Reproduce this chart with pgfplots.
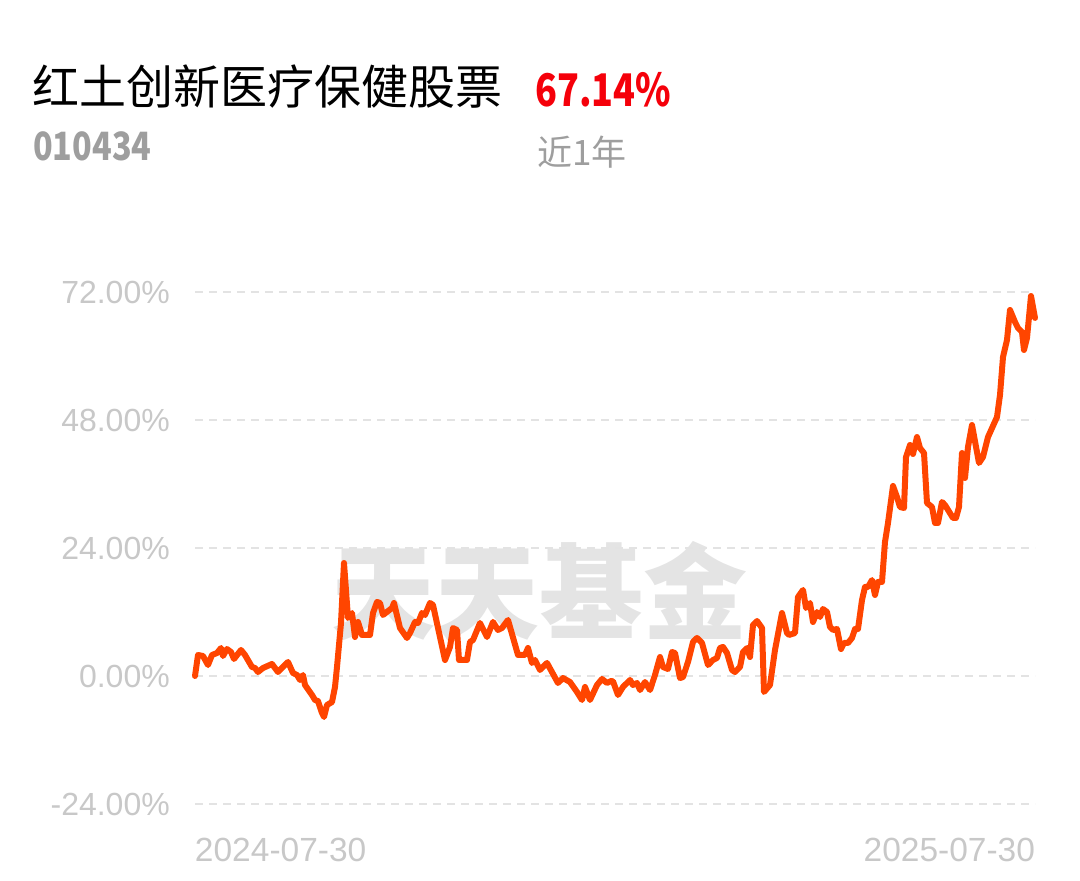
\documentclass[border=0pt]{standalone}
\usepackage{pgfplots}
\pgfplotsset{compat=1.18}
\usepackage{fontspec}
\setmainfont{Liberation Sans}
\newfontfamily\cjk{Noto Sans CJK SC}
\definecolor{lineorange}{HTML}{FF4500}
\definecolor{ticklbl}{HTML}{C8C8C8}
\definecolor{gridgray}{HTML}{E3E3E3}
\definecolor{subgray}{HTML}{9E9E9E}
\definecolor{wmgray}{HTML}{E4E4E4}
\definecolor{hlred}{HTML}{F5000A}

\begin{document}
\begin{tikzpicture}
\useasboundingbox (-195pt,-77pt) rectangle (885pt,804pt);
% watermark behind the chart
\node[font={\cjk\bfseries\fontsize{104}{110}\selectfont}, text=wmgray, inner sep=0pt] at (345pt,213pt) {天天基金};
\begin{axis}[
    scale only axis,
    width=840pt, height=512pt,
    xmin=0, xmax=840,
    ymin=-24, ymax=72,
    axis line style={draw=none},
    tick style={draw=none},
    major tick length=0pt,
    ytick={-24,0,24,48,72},
    yticklabels={-24.00\%,0.00\%,24.00\%,48.00\%,72.00\%},
    yticklabel style={anchor=east, inner sep=0pt, xshift=-25pt, text=ticklbl, font=\fontsize{32}{38}\selectfont},
    xtick={0,840},
    xticklabels={\rlap{2024-07-30},\llap{2025-07-30}},
    xticklabel style={anchor=north, inner sep=0pt, yshift=-34pt, text=ticklbl, font=\fontsize{33.5}{40}\selectfont},
    ymajorgrids,
    grid style={gridgray, line width=2.5pt, dash pattern=on 8pt off 6pt},
    clip=false,
]
\addplot[lineorange, line width=6pt, line join=round, line cap=round] coordinates {
(0,0) (3,3.94) (8,3.75) (13,2.06) (17,3.94) (22,4.31) (26,5.25) (28,3.75)
(32,5.06) (36,4.5) (39,3.19) (46,4.88) (50,3.94) (57,1.69) (60,1.5) (63,0.75)
(68,1.5) (77,2.25) (83,0.75) (93,2.63) (98,0.56) (102,0.19) (105,-0.75)
(108,0.19) (110,-1.69) (117,-3.56) (120,-4.5) (123,-4.69) (127,-6.94)
(129,-7.69) (132,-5.44) (137,-4.88) (140,-2.06) (142,1.69) (146,9.94)
(149,21.19) (153,10.88) (157,11.81) (160,7.31) (163,10.13) (167,7.69)
(175,7.69) (178,11.81) (182,13.88) (185,13.69) (188,11.44) (197,12.75)
(199,13.69) (205,9.0) (212,7.13) (215,8.06) (220,10.13) (223,9.94)
(227,11.81) (230,11.44) (235,13.69) (238,13.31) (250,3.0) (255,5.44)
(258,9.0) (262,8.63) (264,3.0) (272,3.0) (275,6.38) (278,6.75) (285,9.94)
(292,7.31) (298,10.13) (303,8.63) (307,9.0) (313,10.5) (323,3.94) (330,3.94)
(333,5.25) (337,2.44) (340,3.0) (345,1.13) (352,2.44) (363,-1.31)
(368,-0.38) (375,-1.13) (382,-3.0) (387,-4.5) (390,-2.06) (395,-4.5)
(402,-1.69) (407,-0.56) (412,-1.31) (416,-0.94) (418,-1.0) (423,-3.56)
(428,-2.06) (435,-0.75) (438,-1.69) (442,-1.31) (445,-2.63) (450,-1.13)
(455,-2.63) (460,0.19) (465,3.56) (468,1.69) (473,1.31) (477,4.5) (480,4.31)
(485,-0.38) (488,-0.19) (493,2.63) (498,6.38) (502,7.13) (507,6.19)
(513,2.06) (518,3.0) (522,3.38) (525,5.25) (528,5.44) (532,4.31) (537,1.13)
(540,0.75) (545,1.69) (548,4.5) (552,5.25) (555,3.56) (558,9.56) (562,10.31)
(567,9.0) (569,-3.0) (575,-1.69) (580,4.88) (587,11.81) (592,8.06)
(594,7.69) (600,8.06) (603,14.81) (608,16.13) (611,12.75) (615,13.69)
(618,10.13) (622,12.0) (625,11.06) (628,12.56) (632,12.0) (635,9.19)
(638,8.63) (642,8.81) (646,5.06) (649,6.19) (653,6.19) (657,7.13) (660,8.81)
(663,8.81) (667,14.25) (670,16.69) (673,16.69) (677,18.0) (680,15.19)
(683,17.63) (687,17.63) (690,25.13) (693,28.69) (698,35.63) (702,33.56)
(705,31.69) (709,31.5) (711,41.06) (715,43.31) (718,41.63) (722,44.81)
(725,42.75) (729,41.81) (732,32.44) (737,31.69) (740,28.69) (743,28.69)
(747,32.63) (750,32.06) (758,29.63) (761,29.63) (764,31.69) (767,41.81)
(770,37.13) (773,42.94) (777,47.06) (784,39.94) (788,41.06) (793,44.81)
(802,48.56) (805,52.69) (808,59.81) (812,63.0) (815,68.63) (820,66.38)
(823,65.25) (827,64.5) (829,61.13) (832,63.38) (836,71.25) (840,67.14)
};
\end{axis}
% titles
\node[anchor=west, inner sep=0pt, font={\cjk\fontsize{47}{52}\selectfont}, text=black] at (-163pt,717pt) {红土创新医疗保健股票};
\node[anchor=west, inner sep=0pt, font={\cjk\bfseries\fontsize{45}{52}\selectfont}, text=hlred] at (340pt,714pt) {\scalebox{0.8}[1]{67.14\%}};
\node[anchor=west, inner sep=0pt, font={\cjk\bfseries\fontsize{39}{44}\selectfont}, text=subgray] at (-162pt,658pt) {\scalebox{0.83}[1]{010434}};
\node[anchor=west, inner sep=0pt, font={\cjk\fontsize{35}{40}\selectfont}, text=subgray] at (342pt,652pt) {近1年};
\end{tikzpicture}
\end{document}
